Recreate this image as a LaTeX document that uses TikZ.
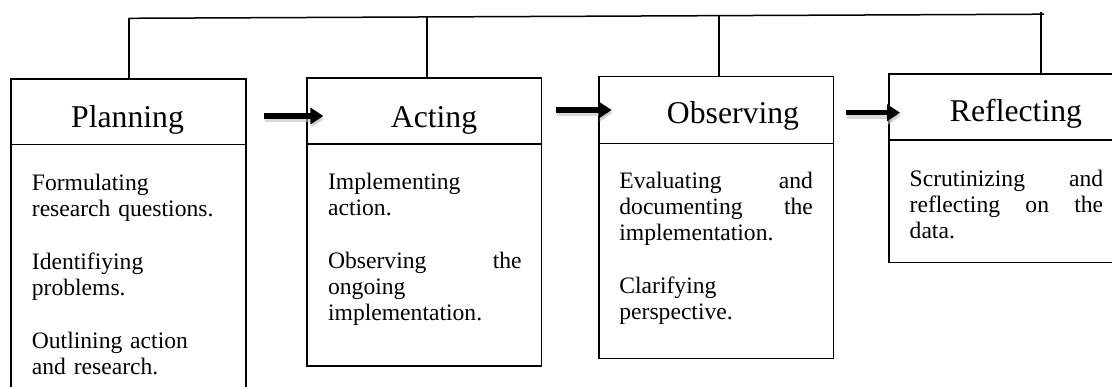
\documentclass[tikz,border=0pt]{standalone}
\usepackage{fontspec}
\setmainfont{Liberation Serif}
\usetikzlibrary{arrows.meta}
\newlength{\bw}
\setlength{\bw}{193.5pt}
\newcommand{\jline}[1]{\makebox[\bw][l]{#1}}
\tikzset{
  boxpart/.style={draw=black, line width=1.2pt, rectangle, inner sep=0pt},
  titletext/.style={font=\fontsize{31.7}{36}\selectfont, anchor=base, inner sep=0pt},
  bodytext/.style={font=\fontsize{23.6}{26}\selectfont, anchor=base west, inner sep=0pt, text width=\bw, align=left},
  conn/.style={line width=1.5pt},
  arr/.style={line width=5.5pt, -{Triangle[length=13pt,width=16pt]}},
  arrshadow/.style={line width=6pt, draw=black!25, opacity=0.6, -{Triangle[length=13pt,width=17pt]}}
}
\begin{document}
\begin{tikzpicture}[x=1pt,y=-1pt]
\clip (0,0) rectangle (1112,387);
\fill[white] (0,0) rectangle (1112,387);
% boxes: headers and bodies
\node[boxpart, minimum width=235pt, minimum height=65.7pt] (planH) at (128.5,111.85) {};
\node[boxpart, minimum width=235pt, minimum height=255.3pt] (planB) at (128.5,272.35) {};
\node[boxpart, minimum width=234.7pt, minimum height=66pt] (actH) at (424.35,111) {};
\node[boxpart, minimum width=234.7pt, minimum height=222pt] (actB) at (424.35,255) {};
\node[boxpart, minimum width=234.3pt, minimum height=66.6pt] (obsH) at (716.15,110) {};
\node[boxpart, minimum width=234.3pt, minimum height=215pt] (obsB) at (716.15,250.8) {};
\node[boxpart, minimum width=235pt, minimum height=66pt] (refH) at (1006.5,107) {};
\node[boxpart, minimum width=235pt, minimum height=122.5pt] (refB) at (1006.5,201.25) {};
% titles
\node[titletext] (planT) at (127.5,128) {Planning};
\node[titletext] (actT) at (434,127.7) {Acting};
\node[titletext] (obsT) at (733,124) {Observing};
\node[titletext] (refT) at (1016,121.7) {Reflecting};
% body texts
\node[bodytext] (planX) at (31.7,191) {Formulating\\research questions.\\[27pt]Identifiying\\problems.\\[27pt]Outlining action\\and research.};
\node[bodytext] (actX) at (327.9,190) {Implementing\\action.\\[27pt]\jline{Observing\hfill the}\\ongoing\\implementation.};
\node[bodytext] (obsX) at (619.2,188.5) {\jline{Evaluating\hfill and}\\\jline{documenting\hfill the}\\implementation.\\[27pt]Clarifying\\perspective.};
\node[bodytext] (refX) at (909.5,187) {\jline{Scrutinizing\hfill and}\\\jline{reflecting\hfill on\hfill the}\\data.};
% top feedback line
\coordinate (topP) at (129,18.3);
\coordinate (topA) at (427,17.0);
\coordinate (topO) at (719,15.7);
\coordinate (topR) at (1041,14.3);
\coordinate (topE) at (1044,14.2);
\draw[conn] (topP) -- (topE);
\draw[conn] (topP) -- (topP |- planH.north);
\draw[conn] (topA) -- (topA |- actH.north);
\draw[conn] (topO) -- (topO |- obsH.north);
\draw[conn] ([yshift=2.6pt]topR) -- (topR |- refH.north);
% arrows between stages (with soft shadows)
\draw[arrshadow] ([xshift=18pt,yshift=-7pt]planH.east) -- ([xshift=18pt,yshift=-7pt]planH.east -| actH.west);
\draw[arrshadow] ([xshift=14.3pt,yshift=-2pt]actH.east) -- ([xshift=14.3pt,yshift=-2pt]actH.east -| obsH.west);
\draw[arrshadow] ([xshift=12.7pt,yshift=-5.7pt]obsH.east) -- ([xshift=12.7pt,yshift=-5.7pt]obsH.east -| refH.west);
\draw[arr] ([xshift=17pt,yshift=-4.15pt]planH.east) -- ([xshift=17pt,yshift=-4.15pt]planH.east -| actH.west);
\draw[arr] ([xshift=13.3pt,yshift=1pt]actH.east) -- ([xshift=13.3pt,yshift=1pt]actH.east -| obsH.west);
\draw[arr] ([xshift=11.7pt,yshift=-2.7pt]obsH.east) -- ([xshift=11.7pt,yshift=-2.7pt]obsH.east -| refH.west);
\end{tikzpicture}
\end{document}
